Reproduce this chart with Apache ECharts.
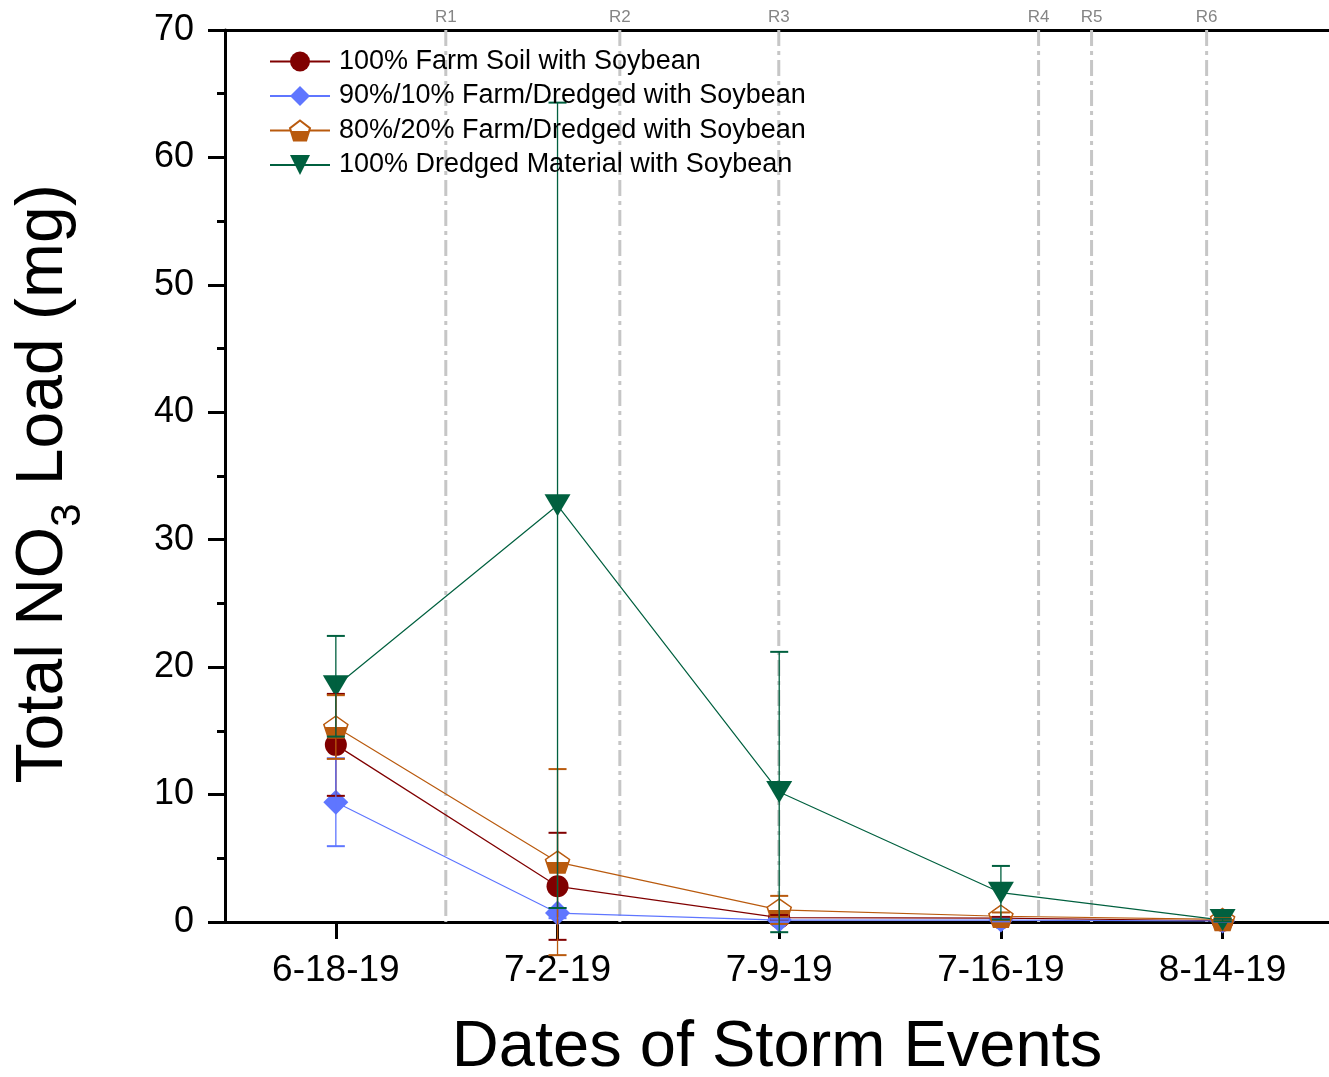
<!DOCTYPE html>
<html>
<head>
<meta charset="utf-8">
<script src="https://cdn.jsdelivr.net/npm/echarts@6/dist/echarts.min.js"></script>
<style>
  html, body { margin: 0; padding: 0; background: #ffffff; }
  #chart { width: 1329px; height: 1077px; }
</style>
</head>
<body>
<div id="chart"></div>
<script>
// Storm-event dates (x categories, placed at integer positions 0..4)
const dates = ['6-18-19', '7-2-19', '7-9-19', '7-16-19', '8-14-19'];

// Series names
const nameFarm = '100% Farm Soil with Soybean';
const name90 = '90%/10% Farm/Dredged with Soybean';
const name80 = '80%/20% Farm/Dredged with Soybean';
const nameDredged = '100% Dredged Material with Soybean';

// Total NO3 load (mg) and error (±) per date
const farmSoil    = [13.9, 2.8, 0.35, 0.3, 0.1];
const farmSoilErr = [4.0, 4.2, 0.2, 0.1, 0.05];
const mix90       = [9.4, 0.7, 0.15, 0.15, 0.08];
const mix90Err    = [3.45, 0.4, 0.1, 0.1, 0.05];
const mix80       = [15.3, 4.7, 0.95, 0.45, 0.2];
const mix80Err    = [2.5, 7.3, 1.1, 0.3, 0.1];
const dredged     = [18.5, 32.7, 10.2, 2.3, 0.15];
const dredgedErr  = [3.95, 31.6, 11.0, 2.1, 0.1];

// Rain events, positioned on the date scale
const rainNames = ['R1', 'R2', 'R3', 'R4', 'R5', 'R6'];
const rainPos   = [0.496, 1.281, 1.998, 3.170, 3.409, 3.928];

// Y-axis ticks
const yMin = 0, yMax = 70, yStep = 10;

const FONT = 'Liberation Sans, Arial, sans-serif';
const cRed = '#800000', cBlue = '#5f76ff', cOrange = '#b95a0e', cGreen = '#00603f';

const pentagon = 'path://M100 0 L195.1 69.1 L158.8 180.9 L41.2 180.9 L4.9 69.1 Z';
const halfFill = new echarts.graphic.LinearGradient(0, 0, 0, 1, [
  { offset: 0, color: '#ffffff' }, { offset: 0.5, color: '#ffffff' },
  { offset: 0.5, color: cOrange }, { offset: 1, color: cOrange }
]);

const toXY = vals => vals.map((v, i) => [i, v]);

function lineSeries(name, vals, color, symbol, size, extra) {
  return Object.assign({
    type: 'line', name: name, data: toXY(vals), z: 2,
    symbol: symbol, symbolSize: size, showSymbol: true,
    lineStyle: { color: color, width: 1.2 },
    itemStyle: { color: color },
    animation: false
  }, extra || {});
}

function errorSeries(name, vals, errs, color) {
  return {
    type: 'custom', name: name + ' (error)', z: 3, silent: true, animation: false,
    data: vals.map((v, i) => [i, v - errs[i], v + errs[i]]),
    encode: { x: 0, y: [1, 2] },
    renderItem: (params, api) => {
      const x = api.value(0);
      const lo = api.coord([x, api.value(1)]);
      const hi = api.coord([x, api.value(2)]);
      const half = 9;
      return {
        type: 'group',
        children: [
          { type: 'line', shape: { x1: lo[0], y1: lo[1], x2: hi[0], y2: hi[1] }, style: { stroke: color, lineWidth: 1.3 } },
          { type: 'line', shape: { x1: lo[0] - half, y1: lo[1], x2: lo[0] + half, y2: lo[1] }, style: { stroke: color, lineWidth: 2 } },
          { type: 'line', shape: { x1: hi[0] - half, y1: hi[1], x2: hi[0] + half, y2: hi[1] }, style: { stroke: color, lineWidth: 2 } }
        ]
      };
    }
  };
}

const rainSeries = {
  type: 'custom', name: 'rain events', z: 1, silent: true, animation: false,
  data: rainPos.map(x => [x, yMax]),
  encode: { x: 0, y: 1 },
  renderItem: (params, api) => {
    const x = api.value(0);
    const top = api.coord([x, yMax]);
    const bottom = api.coord([x, yMin]);
    return {
      type: 'group',
      children: [
        { type: 'line', shape: { x1: top[0], y1: top[1], x2: bottom[0], y2: bottom[1] },
          style: { stroke: '#c6c6c6', lineWidth: 3, lineDash: [16, 5, 4, 5] } },
        { type: 'text', style: { x: top[0], y: top[1] - 13, text: rainNames[params.dataIndex],
          fill: '#858585', fontSize: 17, fontFamily: FONT, align: 'center', verticalAlign: 'middle' } }
      ]
    };
  }
};

const chart = echarts.init(document.getElementById('chart'), null, { renderer: 'canvas' });

chart.setOption({
  backgroundColor: '#ffffff',
  animation: false,
  grid: { left: 225, right: 0, top: 30, bottom: 155, containLabel: false, outerBoundsMode: 'none' },
  legend: {
    data: [nameFarm, name90, name80, nameDredged],
    orient: 'vertical', left: 264, top: 43,
    itemWidth: 60, itemHeight: 25, itemGap: 7.5,
    textStyle: { fontSize: 27, color: '#000', fontFamily: FONT, padding: [0, 0, 0, 4] }
  },
  xAxis: [{
    type: 'value', min: -0.5, max: 4.48, position: 'bottom',
    axisLine: { show: true, onZero: false, lineStyle: { color: '#000', width: 3 } },
    axisTick: { show: true, customValues: [0, 1, 2, 3, 4], length: 17, inside: false, lineStyle: { color: '#000', width: 3 } },
    axisLabel: { show: true, customValues: [0, 1, 2, 3, 4], formatter: v => dates[Math.round(v)],
      fontSize: 37, color: '#000', fontFamily: FONT, margin: 30 },
    splitLine: { show: false },
    name: 'Dates of Storm Events', nameLocation: 'middle', nameGap: 94,
    nameTextStyle: { fontSize: 65, color: '#000', fontFamily: FONT }
  }, {
    type: 'value', min: -0.5, max: 4.48, position: 'top',
    axisLine: { show: true, onZero: false, lineStyle: { color: '#000', width: 3 } },
    axisTick: { show: false }, axisLabel: { show: false }, splitLine: { show: false }
  }],
  yAxis: {
    type: 'value', min: yMin, max: yMax, interval: yStep,
    axisLine: { show: true, onZero: false, lineStyle: { color: '#000', width: 3 } },
    axisTick: { show: true, length: 17, inside: false, lineStyle: { color: '#000', width: 3 } },
    minorTick: { show: true, splitNumber: 2, length: 8, lineStyle: { color: '#000', width: 3 } },
    axisLabel: { fontSize: 36, color: '#000', fontFamily: FONT, margin: 31 },
    splitLine: { show: false }
  },
  graphic: [{
    type: 'text', x: 56, y: 484, rotation: Math.PI / 2,
    style: {
      text: '{a|Total NO}{b|3}{a| Load (mg)}',
      align: 'center', verticalAlign: 'middle',
      rich: {
        a: { fontSize: 66, lineHeight: 66, fontFamily: FONT, fill: '#000', verticalAlign: 'bottom', padding: [0, 0, 12, 0] },
        b: { fontSize: 42, lineHeight: 42, fontFamily: FONT, fill: '#000', verticalAlign: 'bottom' }
      }
    }
  }],
  series: [
    rainSeries,
    lineSeries(nameFarm, farmSoil, cRed, 'circle', 22),
    lineSeries(name90, mix90, cBlue, 'diamond', 25),
    lineSeries(name80, mix80, cOrange, pentagon, [24, 22], {
      itemStyle: { color: halfFill, borderColor: cOrange, borderWidth: 1.5 }
    }),
    lineSeries(nameDredged, dredged, cGreen, 'triangle', [26, 22], { symbolRotate: 180 }),
    errorSeries(nameFarm, farmSoil, farmSoilErr, cRed),
    errorSeries(name90, mix90, mix90Err, cBlue),
    errorSeries(name80, mix80, mix80Err, cOrange),
    errorSeries(nameDredged, dredged, dredgedErr, cGreen)
  ]
});
</script>
</body>
</html>
